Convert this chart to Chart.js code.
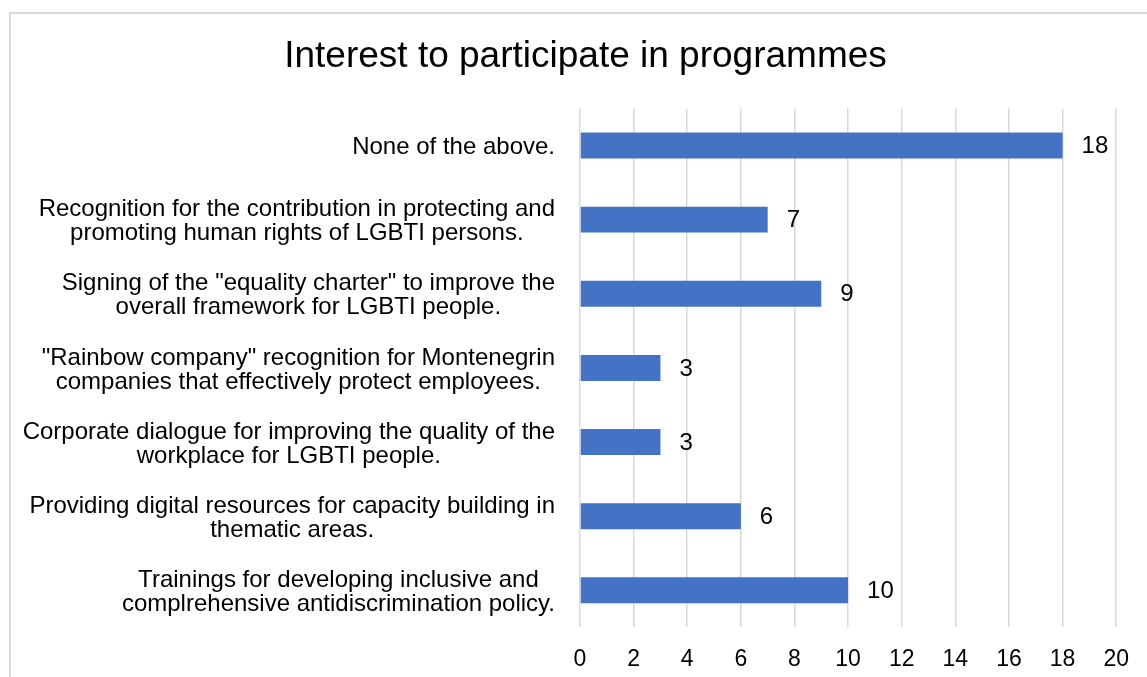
<!DOCTYPE html>
<html>
<head>
<meta charset="utf-8">
<title>Interest to participate in programmes</title>
<script src="https://cdn.jsdelivr.net/npm/chart.js@4.4.1/dist/chart.umd.min.js"></script>
<style>
    html, body { margin: 0; padding: 0; background: #fff; overflow: hidden; }
    #frame {
        position: absolute; left: 9px; top: 12px; width: 1200px; height: 700px;
        border-left: 2px solid #d9d9d9; border-top: 2px solid #d9d9d9;
    }
    #interest-chart { position: absolute; left: 0; top: 0; }
</style>
</head>
<body>
<div id="frame"></div>
<canvas id="interest-chart" width="1147" height="677"></canvas>
<script>
// programme options, each split into the lines it is printed on
const categories = [
    ['None of the above.'],
    ['Recognition for the contribution in protecting and', 'promoting human rights of LGBTI persons.'],
    ['Signing of the "equality charter" to improve the', 'overall framework for LGBTI people.'],
    ['"Rainbow company" recognition for Montenegrin', 'companies that effectively protect employees.'],
    ['Corporate dialogue for improving the quality of the', 'workplace for LGBTI people.'],
    ['Providing digital resources for capacity building in', 'thematic areas.'],
    ['Trainings for developing inclusive and', 'complrehensive antidiscrimination policy.']
];
const responses = [18, 7, 9, 3, 3, 6, 10];
const xTicks = [0, 2, 4, 6, 8, 10, 12, 14, 16, 18, 20];

const FONT = '"Liberation Sans", Arial, sans-serif';

// category names drawn centred line by line, block pushed against the plot
const categoryLabels = {
    id: 'categoryLabels',
    afterDraw(chart) {
        const ctx = chart.ctx;
        const yScale = chart.scales.y;
        const right = chart.chartArea.left - 25;
        const lineH = 24;
        ctx.save();
        ctx.font = '24px ' + FONT;
        ctx.fillStyle = '#000';
        ctx.textAlign = 'center';
        ctx.textBaseline = 'middle';
        chart.data.labels.forEach((lines, i) => {
            const widest = Math.max(...lines.map(l => ctx.measureText(l).width));
            const cx = right - widest / 2;
            const cy = yScale.getPixelForValue(i) + 2;
            const top = cy - (lines.length - 1) * lineH / 2;
            lines.forEach((line, j) => ctx.fillText(line, cx, top + j * lineH));
        });
        ctx.restore();
    }
};

// value printed just past the end of each bar
const valueLabels = {
    id: 'valueLabels',
    afterDatasetsDraw(chart) {
        const ctx = chart.ctx;
        const meta = chart.getDatasetMeta(0);
        ctx.save();
        ctx.font = '24px ' + FONT;
        ctx.fillStyle = '#000';
        ctx.textAlign = 'left';
        ctx.textBaseline = 'middle';
        meta.data.forEach((bar, i) => {
            ctx.fillText(String(chart.data.datasets[0].data[i]), bar.x + 19, bar.y + 1);
        });
        ctx.restore();
    }
};

document.addEventListener('DOMContentLoaded', function() {
    createChart(categories, responses);
});

function createChart(labels, values) {
    const ctx = document.getElementById('interest-chart').getContext('2d');

    new Chart(ctx, {
        type: 'bar',
        data: {
            labels: labels,
            datasets: [{
                data: values,
                backgroundColor: '#4472C4',
                borderWidth: 0,
                barPercentage: 0.35,
                categoryPercentage: 1
            }]
        },
        options: {
            indexAxis: 'y',
            responsive: false,
            animation: false,
            layout: { padding: { left: 53, right: 29, top: 0, bottom: -14 } },
            plugins: {
                legend: { display: false },
                tooltip: { enabled: false },
                title: {
                    display: true,
                    text: 'Interest to participate in programmes',
                    color: '#000',
                    font: { family: FONT, size: 37, weight: 'normal' },
                    padding: { top: 35, bottom: 29 }
                }
            },
            scales: {
                x: {
                    min: 0,
                    max: 20,
                    afterBuildTicks: scale => { scale.ticks = xTicks.map(v => ({ value: v })); },
                    grid: { color: '#d9d9d9', lineWidth: 1.5, drawTicks: false },
                    border: { display: false },
                    ticks: {
                        color: '#000',
                        padding: 18,
                        font: { family: FONT, size: 23 }
                    }
                },
                y: {
                    grid: { display: false },
                    border: { display: false },
                    ticks: { display: false },
                    afterFit: scale => { scale.width = 527; }
                }
            }
        },
        plugins: [categoryLabels, valueLabels]
    });
}
</script>
</body>
</html>
